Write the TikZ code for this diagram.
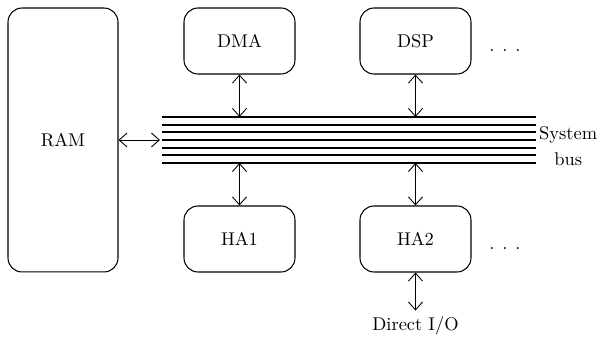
\documentclass[tikz,border=0pt]{standalone}
\usepackage{tikz}
\usetikzlibrary{arrows.meta,positioning,calc}

\begin{document}
\begin{tikzpicture}[x=0.02cm, y=-0.02cm,
    every node/.style={font=\fontsize{10.5}{12}\selectfont},
    unit/.style={draw, line width=0.6pt, rounded corners=0.28cm,
        minimum width=2.22cm, minimum height=1.32cm},
    busline/.style={line width=1.1pt},
    link/.style={line width=0.5pt, {Straight Barb[length=4.5pt,width=8pt]}-{Straight Barb[length=4.5pt,width=8pt]}}]
        % Define dimensions
        \def\busx{162}
        \def\busxend{536}
        \def\bustopy{117}
        \def\busgap{7.667}
        \def\spread{.\hspace{4.5pt}.\hspace{4.5pt}.}

        % Fix the picture size
        \useasboundingbox (0,0) rectangle (603,337);

        % Memory and units
        \node[unit, minimum width=2.2cm, minimum height=5.28cm] (ram) at (63,140) {RAM};
        \node[unit] (dma) at (239.5,41) {DMA};
        \node[unit] (dsp) at (415.5,41) {DSP};
        \node[unit] (ha1) at (239.5,239) {HA1};
        \node[unit] (ha2) at (415.5,239) {HA2};

        % More units
        \node (moreup) at (505,51) {\spread};
        \node (moredown) at (505,249) {\spread};

        % Draw bus lines
        \foreach \i in {0,...,6}
            \draw[busline] (\busx,\bustopy+\busgap*\i) -- (\busxend,\bustopy+\busgap*\i);

        % Bus coordinates
        \coordinate (bustop) at (\busx,\bustopy);
        \coordinate (busbot) at (\busx,\bustopy+6*\busgap);
        \coordinate (buswest) at (\busx-2,\bustopy+3*\busgap);

        % Label bus
        \node[align=center, anchor=west] (buslabel) at (533,146) {System\\[2.7pt]bus};

        % Direct I/O
        \node (dio) at (415.5,326) {Direct I/O};

        % Draw links
        \draw[link] (ram.east |- buswest) -- (buswest);
        \draw[link] (dma) -- (dma |- bustop);
        \draw[link] (dsp) -- (dsp |- bustop);
        \draw[link] (ha1) -- (ha1 |- busbot);
        \draw[link] (ha2) -- (ha2 |- busbot);
        \draw[link] (ha2) -- (dio);
      \end{tikzpicture}
\end{document}
